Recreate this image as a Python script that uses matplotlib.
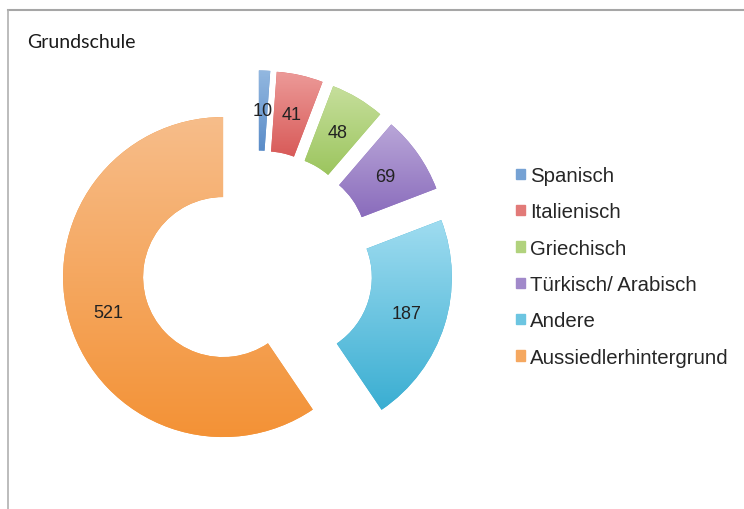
import matplotlib.pyplot as plt
import numpy as np
from matplotlib.colors import LinearSegmentedColormap
from matplotlib.lines import Line2D
from matplotlib.patches import Rectangle

categories = ["Spanisch", "Italienisch", "Griechisch", "Türkisch/ Arabisch", "Andere", "Aussiedlerhintergrund"]
values = [10, 41, 48, 69, 187, 521]
title = "Grundschule"

light = ['#93b8e0', '#ec9a98', '#c6df9c', '#b9a6d8', '#9fdcf0', '#f7bd8a']
dark = ['#5a8cc8', '#d85a58', '#9cc55e', '#8a6cbc', '#3aaed2', '#f39236']
mid = ['#76a2d4', '#e27a78', '#b1d27d', '#a189ca', '#6cc5e1', '#f5a860']

W, H = 744, 510
fig = plt.figure(figsize=(W / 100, H / 100), dpi=100)
ax = fig.add_axes([0, 0, 1, 1])

total = sum(values)
wedges, texts, autotexts = ax.pie(
    values, center=(257.5, 242.5), radius=160, explode=[36] * len(values),
    startangle=90, counterclock=False, colors=dark,
    wedgeprops=dict(width=80, linewidth=0),
    autopct=lambda p: f"{p * total / 100:.0f}", pctdistance=0.75,
    textprops=dict(fontsize=13, color='#222222', family='Liberation Sans'))

for w, lc, dc in zip(wedges, light, dark):
    ext = w.get_path().get_extents()
    cmap = LinearSegmentedColormap.from_list('g', [dc, lc])
    grad = np.linspace(0, 1, 256).reshape(-1, 1)
    im = ax.imshow(grad, cmap=cmap, origin='lower', aspect='auto',
                   extent=[ext.x0, ext.x1, ext.y0, ext.y1], zorder=1.5)
    im.set_clip_path(w)
for t in autotexts:
    t.set_zorder(4)

ax.set_xlim(0, W)
ax.set_ylim(0, H)
ax.set_aspect('equal')
ax.axis('off')

handles = [Rectangle((0, 0), 1, 1, color=c) for c in mid]
leg = fig.legend(handles, categories, loc='upper left',
                 bbox_to_anchor=(516 / W, 1 - 167 / H),
                 frameon=False, handlelength=0.45, handleheight=0.4,
                 handletextpad=0.25, labelspacing=0.85, borderpad=0, borderaxespad=0,
                 prop=dict(family='Liberation Sans', size=14.7))
for t in leg.get_texts():
    t.set_color('#262626')

fig.text(27 / W, 1 - 43 / H, title, va='center', ha='left', fontsize=14,
         family='Lato', color='#1a1a1a')

fig.add_artist(Line2D([8 / W, 1], [1 - 11 / H, 1 - 11 / H], color='#a6a6a6', lw=1.5,
                      transform=fig.transFigure))
fig.add_artist(Line2D([8 / W, 8 / W], [0, 1 - 11 / H], color='#b0b0b0', lw=1.2,
                      transform=fig.transFigure))

fig.savefig('out.png', dpi=100)
